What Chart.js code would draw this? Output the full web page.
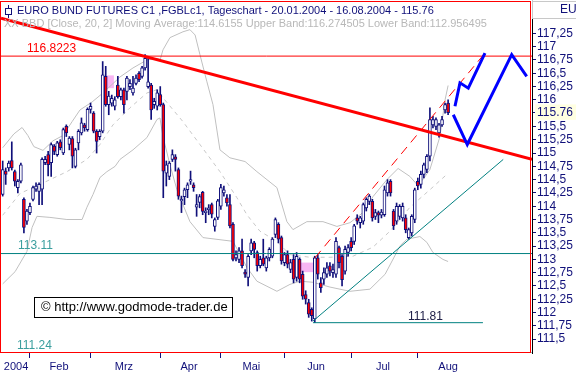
<!DOCTYPE html>
<html>
<head>
<meta charset="utf-8">
<script src="https://cdn.jsdelivr.net/npm/chart.js@4.4.1/dist/chart.umd.min.js"></script>
<style>
  html, body { margin: 0; padding: 0; background: #fff; }
</style>
</head>
<body>
<canvas id="chart" width="576" height="373"></canvas>
<script>
// Tageskerzen FGBL 20.01.2004 - 16.08.2004 (Index 0 = 20.01.)
var opens = [114.22,114.66,114.72,114.86,114.65,114.35,114.47,114.13,113.72,113.88,
  114.13,114.32,114.28,114.32,114.82,114.97,114.82,115.13,114.97,115.21,
  115.00,115.50,115.16,115.27,114.75,115.19,115.38,115.53,115.44,115.82,
  115.75,115.41,115.31,115.41,116.44,115.91,115.94,115.88,116.28,116.06,
  116.19,116.16,116.25,116.13,116.31,116.50,116.44,116.60,116.25,116.28,
  115.91,115.88,116.10,115.91,114.62,114.56,114.88,114.93,114.69,114.10,
  114.18,114.31,114.47,114.40,113.98,114.07,114.26,113.88,113.93,114.03,
  113.62,113.79,114.00,114.25,114.16,114.03,113.66,113.03,113.00,113.16,
  112.76,112.66,113.16,113.31,113.13,112.88,113.03,112.84,113.03,113.06,
  113.47,113.66,113.41,112.94,113.09,112.81,113.00,112.66,113.00,112.72,
  112.34,112.19,112.06,111.88,113.03,112.56,112.63,112.72,112.88,112.75,
  112.72,113.22,113.06,112.78,113.13,113.34,113.34,113.78,113.69,113.72,
  113.97,114.09,114.09,113.81,113.88,113.83,113.84,114.25,114.47,113.91,
  113.72,113.81,113.78,113.78,113.41,113.50,113.75,114.47,114.41,114.60,
  114.69,114.94,115.53,115.50,115.38,115.53,115.81,115.94]
var closes = [114.69,114.60,114.81,114.72,114.47,114.47,114.78,113.60,113.91,114.00,
  114.35,114.38,114.41,114.88,114.88,114.78,115.16,115.03,115.19,115.10,
  115.44,115.38,115.28,114.94,115.06,115.41,115.57,115.47,115.82,115.88,
  115.41,115.22,115.41,116.47,115.91,116.07,116.03,116.00,116.06,116.19,
  115.91,116.41,116.31,116.22,116.41,116.38,116.60,116.78,116.34,115.81,
  115.97,116.13,115.91,114.66,114.78,114.81,114.97,114.88,114.19,114.13,
  114.31,114.40,114.50,114.35,114.03,114.18,113.90,113.91,113.97,113.85,
  113.75,114.10,114.35,114.31,114.06,113.63,113.00,113.09,113.16,112.88,
  112.72,113.06,113.31,113.19,112.88,113.00,112.91,113.03,113.19,113.38,
  113.75,113.38,112.97,113.09,112.91,112.94,112.63,113.06,112.63,112.31,
  112.25,111.97,111.94,113.03,112.72,112.47,112.75,112.84,112.78,112.81,
  113.34,112.94,112.62,113.19,113.22,113.22,113.63,113.72,113.78,114.03,
  114.13,114.19,113.78,113.88,113.83,113.89,114.31,114.44,114.25,113.63,
  114.00,114.00,114.00,113.56,113.56,113.81,114.31,114.38,114.60,114.78,
  114.94,115.63,115.63,115.63,115.53,115.63,115.91,115.76]
var highs = [114.85,114.72,114.85,115.21,114.68,114.50,114.81,114.16,113.94,114.06,
  114.38,114.44,114.44,114.91,114.94,115.03,115.19,115.16,115.22,115.25,
  115.47,115.53,115.31,115.31,115.09,115.44,115.66,115.56,115.85,115.94,
  115.78,115.44,115.44,116.72,116.63,116.16,116.09,116.06,116.44,116.22,
  116.22,116.44,116.38,116.44,116.47,116.53,116.63,116.85,116.81,116.31,
  116.03,116.19,116.25,115.94,114.85,114.84,115.06,114.97,114.72,114.19,
  114.34,114.44,114.66,114.44,114.22,114.22,114.28,113.97,114.03,114.06,
  113.78,114.13,114.41,114.38,114.22,114.22,113.69,113.16,113.22,113.38,
  112.81,113.09,113.38,113.34,113.16,113.06,113.38,113.06,113.22,113.41,
  113.78,113.69,113.44,113.13,113.16,113.00,113.09,113.13,113.03,112.78,
  112.41,112.25,112.09,113.06,113.09,112.66,112.84,112.94,112.94,112.91,
  113.41,113.25,113.09,113.25,113.28,113.41,113.66,113.84,113.81,114.06,
  114.16,114.22,114.13,113.94,113.91,113.94,114.38,114.50,114.50,113.94,
  114.06,114.03,114.06,113.84,113.59,113.84,114.34,114.53,114.66,114.81,
  114.97,115.85,115.69,115.66,115.56,115.69,115.94,116.00]
var lows = [114.19,114.41,114.66,114.68,114.38,114.25,114.44,113.50,113.66,113.84,
  114.10,114.28,114.03,114.03,114.78,114.57,114.56,114.97,114.94,115.06,
  114.97,115.31,115.06,114.72,114.72,115.06,115.34,115.41,115.41,115.75,
  115.38,115.00,115.25,115.38,115.88,115.72,115.88,115.81,116.03,116.00,
  115.75,116.00,116.19,116.09,116.28,116.34,116.41,116.56,116.22,115.63,
  115.84,115.81,115.88,114.16,114.38,114.50,114.84,114.66,114.13,113.88,
  114.03,114.16,114.41,114.28,113.81,113.97,113.84,113.69,113.84,113.78,
  113.53,113.75,113.94,114.19,114.00,113.59,112.97,112.97,112.94,112.84,
  112.66,112.50,113.09,113.03,112.78,112.84,112.88,112.78,112.97,113.03,
  113.41,113.31,112.91,112.88,112.84,112.75,112.56,112.59,112.56,112.25,
  112.16,111.91,111.84,111.81,112.63,112.38,112.53,112.66,112.69,112.66,
  112.66,112.84,112.50,112.72,113.06,113.16,113.28,113.66,113.59,113.66,
  113.91,114.03,113.72,113.75,113.69,113.78,113.81,114.19,114.19,113.56,
  113.66,113.75,113.72,113.50,113.38,113.44,113.69,114.31,114.34,114.53,
  114.63,114.85,115.47,115.44,115.30,115.50,115.75,115.72]

// Bollinger 20,2 (Index, Wert)
var upperBand = [[0,115.10],[3.7,115.36],[6.4,115.48],[8.3,115.33],[10.3,115.12],[13.3,115.05],[16.6,115.23],
  [19.9,115.33],[22.9,115.59],[25.5,115.81],[29.5,115.96],[33.1,116.13],[38.7,116.43],[43.0,116.60],
  [47.6,116.75],[50.9,116.78],[52.0,116.76],[52.9,116.94],[55.2,117.17],[59.5,117.28],[61.8,117.32],
  [63.5,117.22],[65.1,116.85],[67.4,116.34],[69.4,115.91],[71.7,115.06],[75.0,114.91],[80.0,114.84],
  [83.9,114.65],[90.5,114.35],[93.8,113.71],[95.8,113.56],[100.4,113.71],[105.7,113.71],[110.3,113.62],
  [114.6,113.69],[118.9,113.88],[122.2,114.18],[126.8,114.50],[130.5,114.71],[134.4,114.56],[136.7,114.41],
  [138.7,114.50],[141.0,114.69],[144.3,115.31],[146.0,116.00],[147,116.27]]
var movingAvg = [[0,113.83],[5.7,114.24],[12.3,114.41],[21.2,114.65],[27.8,114.88],[32.1,115.16],[36.4,115.53],
  [42.0,115.85],[47.6,116.13],[50.9,116.19],[52.9,116.04],[59.5,115.59],[65.1,115.16],[71.7,114.65],
  [77.3,114.16],[80.6,113.84],[84.9,113.53],[90.5,113.34],[94.8,113.09],[101.4,113.04],[108.0,113.04],
  [115.6,113.06],[122.2,113.23],[127.8,113.53],[134.4,113.98],[141.0,114.31],[147,114.62]]
var lowerBand = [[0,112.54],[4.1,112.77],[8.0,113.15],[9.7,113.60],[11.3,113.81],[15.6,113.79],[21.2,113.75],
  [26.2,113.75],[27.8,113.98],[29.8,114.22],[32.1,114.54],[34.4,114.65],[37.1,114.75],[38.7,114.88],
  [43.0,115.06],[47.6,115.29],[50.9,115.63],[51.9,115.66],[52.9,115.31],[55.2,114.78],[57.5,114.31],
  [59.5,114.03],[61.8,113.71],[66.1,113.41],[76.0,113.34],[80.6,112.85],[83.9,112.59],[90.5,112.40],
  [94.8,112.53],[98.1,112.59],[102.4,112.57],[108.0,112.48],[114.6,112.40],[121.2,112.44],[126.2,112.72],
  [131.2,113.26],[133.4,113.38],[137.7,113.43],[140.0,113.32],[142.0,113.13],[145.3,113.00],[147,112.96]]

// Linien
var downTrend = [[-0.56,117.535],[174.69,114.88]]
var channelTop = [[103.07,113.03],[159.17,116.88]]
var channelBottom = [[102.4,111.84],[165.2,114.88]]
var lowLine = [[102.4,111.81],[158.5,111.81]]
var projA = [[149.27,115.88],[150.92,116.32],[153.66,116.22],[159.17,116.88]]
var projB = [[148.71,115.72],[153.33,115.16],[167.99,116.85],[172.94,116.44]]
var levelHigh = 116.8223
var levelMid = 113.11
var levelLow = 111.24
var lastPrice = 115.76

// markierte Zonen [von, bis, unten, oben]
var marks = [[34.3,36.7,116.22,116.46],[98.1,103.1,112.76,112.94]]

// Achsen
var xMin = -0.56, xMax = 174.69
var monthStarts = [9, 29, 52, 72, 93, 115, 137]
var monthNames = ['2004', 'Feb', 'Mrz', 'Apr', 'Mai', 'Jun', 'Jul', 'Aug']
var monthLabelPos = [4.4, 18.6, 40, 61.5, 82.1, 103.4, 125.5, 147]
var yTicks = [111.5,111.75,112,112.25,112.5,112.75,113,113.25,113.5,113.75,114,114.25,114.5,
  114.75,115,115.25,115.5,115.76,116,116.25,116.5,116.75,117,117.25]

var navy = '#10107a'
var teal = '#008080'

function pts(arr) {
  return arr.map(function (p) { return { x: p[0], y: p[1] } })
}
function line(arr, color, width, dash, order) {
  return {
    type: 'line', data: pts(arr), borderColor: color, borderWidth: width,
    borderDash: dash || [], pointRadius: 0, fill: false, tension: 0, order: order
  }
}

var wicks = [], bodies = [], bodyColors = []
opens.forEach(function (o, i) {
  wicks.push({ x: i, y: [lows[i], highs[i]] })
  bodies.push({ x: i, y: [o, closes[i]] })
  bodyColors.push(closes[i] >= o ? '#ffffff' : '#ff0000')
})

var deco = {
  id: 'deco',
  beforeDatasetsDraw: function (chart) {
    var ctx = chart.ctx, sx = chart.scales.x, sy = chart.scales.y, a = chart.chartArea
    ctx.save()
    ctx.beginPath()
    ctx.rect(a.left, a.top, a.right - a.left, a.bottom - a.top)
    ctx.clip()
    ctx.fillStyle = '#f8b6f3'
    marks.forEach(function (m) {
      var x1 = sx.getPixelForValue(m[0]), x2 = sx.getPixelForValue(m[1])
      var y1 = sy.getPixelForValue(m[3]), y2 = sy.getPixelForValue(m[2])
      ctx.fillRect(x1, y1, x2 - x1, y2 - y1)
    })
    ctx.restore()
  },
  afterDatasetsDraw: function (chart) {
    var ctx = chart.ctx, sx = chart.scales.x, sy = chart.scales.y, a = chart.chartArea
    ctx.save()
    ctx.textBaseline = 'middle'
    ctx.textAlign = 'left'
    // Kopfzeilen
    ctx.font = '11px "Liberation Sans", Arial, sans-serif'
    ctx.fillStyle = navy
    ctx.fillText('EURO BUND FUTURES C1 ,FGBLc1, Tageschart - 20.01.2004 - 16.08.2004 - 115.76', a.left + 16, a.top + 9)
    ctx.strokeStyle = navy
    ctx.lineWidth = 1
    ctx.strokeRect(a.left + 4.5, a.top + 6.5, 6, 6)
    ctx.beginPath()
    ctx.moveTo(a.left + 7.5, a.top + 3)
    ctx.lineTo(a.left + 7.5, a.top + 6.5)
    ctx.moveTo(a.left + 7.5, a.top + 12.5)
    ctx.lineTo(a.left + 7.5, a.top + 16)
    ctx.stroke()
    ctx.fillStyle = '#b8b8b8'
    ctx.fillText('XX BBD [Close, 20, 2] Moving Average:114.6155 Upper Band:116.274505 Lower Band:112.956495', a.left + 3, a.top + 22)
    // Linienbeschriftungen
    ctx.font = '12px "Liberation Sans", Arial, sans-serif'
    ctx.fillStyle = '#ff0000'
    ctx.fillText('116.8223', a.left + 26, sy.getPixelForValue(levelHigh) - 7)
    ctx.fillStyle = '#3a9e9e'
    ctx.fillText('113.11', a.left + 17, sy.getPixelForValue(levelMid) - 8)
    ctx.fillText('111.24', a.left + 16, sy.getPixelForValue(levelLow) - 7)
    ctx.fillStyle = '#202048'
    ctx.textAlign = 'center'
    ctx.fillText('111.81', sx.getPixelForValue(139.5), sy.getPixelForValue(111.81) - 6)
    // Copyright
    ctx.fillStyle = '#ffffff'
    ctx.fillRect(a.left + 33, 297, 198, 20)
    ctx.strokeStyle = '#000000'
    ctx.strokeRect(a.left + 33.5, 297.5, 198, 20)
    ctx.fillStyle = '#000000'
    ctx.textAlign = 'left'
    ctx.font = '13px "Liberation Sans", Arial, sans-serif'
    ctx.fillText('\u00a9 http://www.godmode-trader.de', a.left + 40, 307.5)
    // Rahmen
    ctx.strokeStyle = '#ff0000'
    ctx.strokeRect(a.left - 0.5, a.top - 0.5, a.right - a.left - 1, a.bottom - a.top)
    ctx.restore()
  },
  afterDraw: function (chart) {
    var ctx = chart.ctx, a = chart.chartArea
    ctx.save()
    ctx.strokeStyle = '#c8c8c8'
    ctx.lineWidth = 1
    ctx.beginPath()
    ctx.moveTo(a.right + 0.5, 0)
    ctx.lineTo(a.right + 0.5, 19)
    ctx.moveTo(a.right, 1.5)
    ctx.lineTo(576, 1.5)
    ctx.moveTo(a.right, 18.5)
    ctx.lineTo(576, 18.5)
    ctx.stroke()
    ctx.fillStyle = navy
    ctx.font = '12px "Liberation Sans", Arial, sans-serif'
    ctx.textBaseline = 'middle'
    ctx.fillText('EU', 560, 10)
    ctx.restore()
  }
}

Chart.defaults.font.family = '"Liberation Sans", Arial, sans-serif'

var ctx = document.getElementById('chart').getContext('2d')
var chart = new Chart(ctx, {
  type: 'bar',
  data: {
    datasets: [
      line(upperBand, '#c0c0c0', 1, null, 10),
      line(lowerBand, '#c0c0c0', 1, null, 10),
      line(movingAvg, '#c8c8c8', 1, [4, 4], 10),
      {
        type: 'bar', data: wicks, backgroundColor: navy, barThickness: 1,
        grouped: false, order: 6
      },
      {
        type: 'bar', data: bodies, backgroundColor: bodyColors, borderColor: navy,
        borderWidth: 1, borderSkipped: false, barThickness: 3, grouped: false, order: 5
      },
      line([[xMin, levelHigh], [xMax, levelHigh]], '#ff0000', 1, null, 3),
      line([[xMin, levelMid], [xMax, levelMid]], teal, 1, null, 3),
      line([[xMin, levelLow], [xMax, levelLow]], teal, 1, null, 3),
      line(lowLine, teal, 1, null, 3),
      line(channelBottom, teal, 1, null, 3),
      line(channelTop, '#ff0000', 1, [9, 6], 2),
      line(downTrend, '#ff0000', 3, null, 2),
      line(projA, '#0000ff', 3, null, 1),
      line(projB, '#0000ff', 3, null, 1)
    ]
  },
  options: {
    responsive: false,
    animation: false,
    events: [],
    layout: { padding: { left: 1, top: 2, right: 0, bottom: 0 } },
    plugins: { legend: { display: false }, tooltip: { enabled: false } },
    scales: {
      x: {
        type: 'linear', min: xMin, max: xMax, offset: false,
        afterBuildTicks: function (axis) {
          axis.ticks = monthStarts.concat(monthLabelPos)
            .sort(function (a, b) { return a - b })
            .map(function (v) { return { value: v } })
        },
        afterFit: function (axis) {
          axis.height = 20
          axis.paddingLeft = 0
          axis.paddingRight = 0
        },
        ticks: {
          autoSkip: false, maxRotation: 0, minRotation: 0, padding: 2,
          color: navy, font: { size: 11 },
          callback: function (v) {
            var k = monthLabelPos.indexOf(v)
            return k >= 0 ? monthNames[k] : ''
          }
        },
        grid: {
          offset: false, drawOnChartArea: false, drawTicks: true, tickLength: 5,
          tickColor: function (c) {
            return c.tick && monthStarts.indexOf(c.tick.value) >= 0 ? navy : 'rgba(0,0,0,0)'
          }
        },
        border: { display: false }
      },
      y: {
        type: 'linear', position: 'right', min: levelLow, max: 117.84,
        afterBuildTicks: function (axis) {
          axis.ticks = yTicks.map(function (v) { return { value: v } })
        },
        afterFit: function (axis) {
          axis.width = 44
          axis.paddingTop = 0
          axis.paddingBottom = 0
        },
        ticks: {
          autoSkip: false, padding: 1, color: navy, font: { size: 12 },
          callback: function (v) {
            return v === lastPrice ? '115.76' : String(v).replace('.', ',')
          },
          showLabelBackdrop: function (c) { return !!(c.tick && c.tick.value === lastPrice) },
          backdropColor: '#ffffe1',
          backdropPadding: { top: 1, bottom: 0, left: 2, right: 12 }
        },
        grid: { drawOnChartArea: false, drawTicks: true, tickLength: 4, tickColor: navy },
        border: { display: true, color: '#000000', dash: [1, 2] }
      }
    }
  },
  plugins: [deco]
})
</script>
</body>
</html>
